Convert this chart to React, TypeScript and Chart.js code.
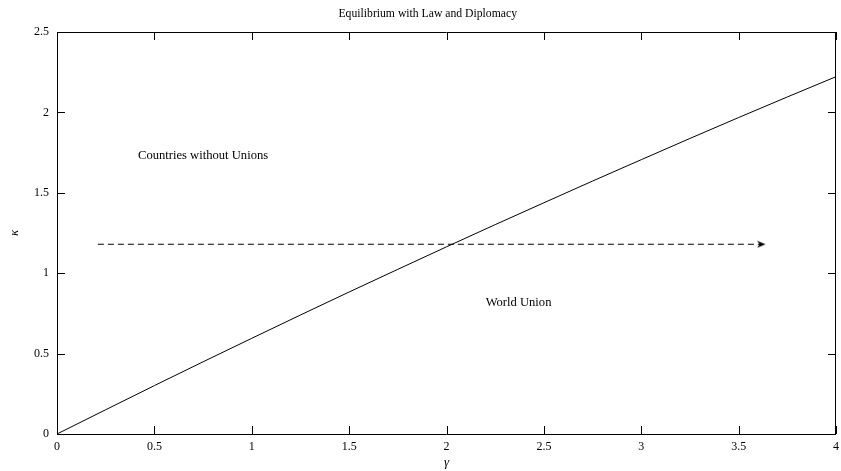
import React, { useEffect, useRef } from "react";
import { Chart, registerables } from "chart.js";

Chart.register(...registerables);

const chartTitle = "Equilibrium with Law and Diplomacy";
const xAxisLabel = "γ";
const yAxisLabel = "κ";
const gammaValues = [0, 0.25, 0.5, 0.75, 1, 1.25, 1.5, 1.75, 2, 2.25, 2.5, 2.75, 3, 3.25, 3.5, 3.75, 4];
const kappaValues = [0, 0.151, 0.301, 0.449, 0.595, 0.74, 0.883, 1.024, 1.164, 1.302, 1.438, 1.573, 1.706, 1.838, 1.968, 2.096, 2.222];
const arrowGamma = [0.21, 3.615];
const arrowKappa = [1.18, 1.18];
const regionLabels = ["Countries without Unions", "World Union"];
const regionGamma = [0.75, 2.37];
const regionKappa = [1.73, 0.815];
const xTickValues = [0, 0.5, 1, 1.5, 2, 2.5, 3, 3.5, 4];
const yTickValues = [0, 0.5, 1, 1.5, 2, 2.5];

const SERIF = "'Liberation Serif', 'Times New Roman', serif";

function makeArrowHead() {
  const c = document.createElement("canvas");
  c.width = 10;
  c.height = 8;
  const g = c.getContext("2d")!;
  g.fillStyle = "#000";
  g.beginPath();
  g.moveTo(9.5, 4);
  g.lineTo(1, 0.5);
  g.lineTo(3.5, 4);
  g.lineTo(1, 7.5);
  g.closePath();
  g.fill();
  return c;
}

const framePlugin = {
  id: "frame",
  afterDatasetsDraw(chart: any) {
    const { ctx, chartArea, scales } = chart;
    const { left, right, top, bottom } = chartArea;
    ctx.save();
    ctx.strokeStyle = "#000";
    ctx.lineWidth = 1;
    ctx.beginPath();
    ctx.rect(Math.round(left) + 0.5, Math.round(top) + 0.5, Math.round(right - left) - 1, Math.round(bottom - top));
    ctx.stroke();
    const tl = 8;
    ctx.beginPath();
    xTickValues.forEach((v) => {
      const px = Math.round(scales.x.getPixelForValue(v)) + 0.5;
      ctx.moveTo(px, bottom);
      ctx.lineTo(px, bottom - tl);
      ctx.moveTo(px, top);
      ctx.lineTo(px, top + tl);
    });
    yTickValues.forEach((v) => {
      const py = Math.round(scales.y.getPixelForValue(v)) + 0.5;
      ctx.moveTo(left, py);
      ctx.lineTo(left + tl, py);
      ctx.moveTo(right, py);
      ctx.lineTo(right - tl, py);
    });
    ctx.stroke();

    ctx.fillStyle = "#000";
    ctx.font = `12.6px ${SERIF}`;
    ctx.textAlign = "center";
    ctx.textBaseline = "middle";
    regionLabels.forEach((t, i) => {
      ctx.fillText(t, scales.x.getPixelForValue(regionGamma[i]), scales.y.getPixelForValue(regionKappa[i]));
    });

    ctx.font = `11.7px ${SERIF}`;
    ctx.textAlign = "right";
    ctx.textBaseline = "alphabetic";
    ctx.fillText(chartTitle, 517, 17);
    ctx.restore();
  },
};

export default function App() {
  const ref = useRef<HTMLCanvasElement>(null);
  useEffect(() => {
    document.body.style.margin = "0";
    const canvas = ref.current!;
    const arrow = makeArrowHead();
    const chart = new Chart(canvas, {
      type: "scatter",
      data: {
        datasets: [
          {
            data: gammaValues.map((g, i) => ({ x: g, y: kappaValues[i] })),
            showLine: true,
            borderColor: "#000",
            borderWidth: 1,
            pointRadius: 0,
            fill: false,
          },
          {
            data: arrowGamma.map((g, i) => ({ x: g, y: arrowKappa[i] })),
            showLine: true,
            borderColor: "#000",
            borderWidth: 1,
            borderDash: [6, 4],
            pointRadius: [0, 4],
            pointStyle: ["circle", arrow],
            pointBackgroundColor: "#000",
            pointBorderColor: "#000",
            fill: false,
          },
        ],
      },
      options: {
        responsive: false,
        animation: false,
        layout: { padding: { top: 32, right: 1, left: 0, bottom: 0 } },
        plugins: { legend: { display: false }, tooltip: { enabled: false }, title: { display: false } },
        scales: {
          x: {
            type: "linear",
            min: 0,
            max: 4,
            afterBuildTicks: (s: any) => {
              s.ticks = xTickValues.map((v) => ({ value: v }));
            },
            afterFit: (s: any) => {
              s.height = 37;
              s.paddingLeft = 0;
              s.paddingRight = 0;
            },
            grid: { display: false, drawTicks: false },
            border: { display: false },
            ticks: {
              padding: 6,
              color: "#000",
              font: { family: SERIF, size: 12 },
              callback: (v: any) => String(v),
              maxRotation: 0,
              autoSkip: false,
            },
            title: {
              display: true,
              text: xAxisLabel,
              color: "#000",
              font: { family: SERIF, size: 13, style: "italic" },
              padding: { top: 0, bottom: 1 },
            },
          },
          y: {
            type: "linear",
            min: 0,
            max: 2.5,
            afterBuildTicks: (s: any) => {
              s.ticks = yTickValues.map((v) => ({ value: v }));
            },
            afterFit: (s: any) => {
              s.width = 57;
              s.paddingTop = 0;
              s.paddingBottom = 0;
            },
            grid: { display: false, drawTicks: false },
            border: { display: false },
            ticks: {
              padding: 8,
              color: "#000",
              font: { family: SERIF, size: 12 },
              callback: (v: any) => String(v),
              autoSkip: false,
            },
            title: {
              display: true,
              text: yAxisLabel,
              color: "#000",
              font: { family: SERIF, size: 13, style: "italic" },
              padding: { top: 7, bottom: 0 },
            },
          },
        },
      },
      plugins: [framePlugin],
    } as any);
    return () => chart.destroy();
  }, []);
  return (
    <div style={{ width: 841, height: 471, background: "#fff" }}>
      <canvas ref={ref} width={841} height={471} style={{ display: "block" }} />
    </div>
  );
}
